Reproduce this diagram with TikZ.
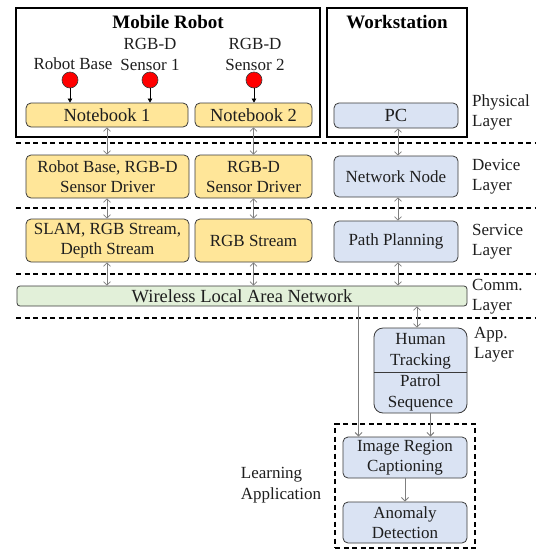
\documentclass[tikz,border=0pt]{standalone}
\usepackage{fontspec}
\setmainfont{Liberation Serif}
\usetikzlibrary{arrows.meta,calc}
\definecolor{ylw}{HTML}{FFE699}
\definecolor{blu}{HTML}{DAE3F3}
\definecolor{grn}{HTML}{E2F0D9}
\definecolor{brd}{HTML}{3A3A3A}
\definecolor{arr}{HTML}{7F7F7F}
\definecolor{txt}{HTML}{1E1E1E}
\tikzset{
  base/.style={draw=brd, line width=0.8pt, rounded corners=5pt, inner sep=0pt, align=center, text=txt, font=\fontsize{17}{20}\selectfont},
  ybox/.style={base, fill=ylw},
  bbox/.style={base, fill=blu},
  gbox/.style={base, fill=grn},
  big/.style={font=\fontsize{18.5}{22}\selectfont},
  frame/.style={draw=black, line width=1.3pt, inner sep=0pt},
  sensor/.style={circle, draw=brd, fill=red, line width=0.6pt, minimum size=16pt, inner sep=0pt},
  lbl/.style={align=center, text=txt, font=\fontsize{17}{21}\selectfont, inner sep=0pt},
  llbl/.style={align=left, anchor=west, text=txt, font=\fontsize{17}{20}\selectfont, inner sep=0pt},
  ttl/.style={text=black, font=\fontsize{19}{22}\selectfont\bfseries, inner sep=0pt},
  sep/.style={draw=black, line width=1.2pt, dash pattern=on 5pt off 3.5pt},
  dbl/.style={draw=arr, line width=0.7pt, {Straight Barb[length=3.5pt,width=7pt]}-{Straight Barb[length=3.5pt,width=7pt]}},
  garrow/.style={draw=arr, line width=0.9pt, -{Straight Barb[length=3.5pt,width=7pt]}},
  karrow/.style={draw=black, line width=0.7pt, -{Triangle[length=4pt,width=4.5pt]}},
}
\begin{document}
\begin{tikzpicture}[x=1pt,y=-1pt]
\useasboundingbox (0,0) rectangle (536,550);
% outer frames
\node[frame, minimum width=304pt, minimum height=129pt] (mr) at (168,72.5) {};
\node[frame, minimum width=140pt, minimum height=129pt] (ws) at (397,72.5) {};
\node[ttl] (mrt) at (168,22) {Mobile Robot};
\node[ttl] (wst) at (397,22) {Workstation};
% sensors
\node[lbl] (rbl) at (73,64) {Robot Base};
\node[lbl] (s1l) at (150,54) {RGB-D\\Sensor 1};
\node[lbl] (s2l) at (255,54) {RGB-D\\Sensor 2};
\node[sensor] (s0) at (70,80) {};
\node[sensor] (s1) at (150,80) {};
\node[sensor] (s2) at (254,80) {};
% physical layer
\node[ybox, big, minimum width=162pt, minimum height=24pt] (nb1) at (107,115) {Notebook 1};
\node[ybox, big, minimum width=117pt, minimum height=24pt] (nb2) at (253.5,115) {Notebook 2};
\node[bbox, big, minimum width=124pt, minimum height=25pt] (pc) at (396,115.5) {PC};
% device layer
\node[ybox, minimum width=163pt, minimum height=43pt] (d1) at (107.5,176.5) {Robot Base, RGB-D\\Sensor Driver};
\node[ybox, minimum width=117pt, minimum height=43pt] (d2) at (253.5,176.5) {RGB-D\\Sensor Driver};
\node[bbox, minimum width=124pt, minimum height=41pt] (nn) at (396,176.5) {Network Node};
% service layer
\node[ybox, minimum width=163pt, minimum height=43pt] (v1) at (107.5,240.5) {SLAM, RGB Stream,\\Depth Stream};
\node[ybox, minimum width=117pt, minimum height=43pt] (v2) at (253.5,240.5) {RGB Stream};
\node[bbox, minimum width=124pt, minimum height=41pt] (pp) at (396,241.5) {Path Planning};
% comm layer
\node[gbox, big, rounded corners=3pt, minimum width=450pt, minimum height=20pt] (wl) at (242,296) {Wireless Local Area Network};
% app layer
\node[bbox, rounded corners=9pt, minimum width=93pt, minimum height=85pt] (ht) at (420.5,370.5) {};
\draw[draw=brd, line width=0.8pt] (ht.west |- 0,372) -- (ht.east |- 0,372);
\node[lbl] (htt) at (420.5,351) {Human\\Tracking};
\node[lbl] (pst) at (420.5,392.5) {Patrol\\Sequence};
% learning application
\node[draw=black, line width=1.2pt, dash pattern=on 5pt off 3.5pt, minimum width=140pt, minimum height=124pt, inner sep=0pt] (la) at (405,486) {};
\node[bbox, minimum width=124pt, minimum height=41pt] (irc) at (405,457.5) {Image Region\\Captioning};
\node[bbox, minimum width=124pt, minimum height=41pt] (ad) at (405,522.5) {Anomaly\\Detection};
\node[lbl, align=left] (lat) at (281,485) {Learning\\Application};
% layer labels
\node[llbl] (lphy) at (472,112) {Physical\\Layer};
\node[llbl] (ldev) at (472,177) {Device\\Layer};
\node[llbl] (lsrv) at (472,242) {Service\\Layer};
\node[llbl] (lcom) at (472,296.5) {Comm.\\Layer};
\node[llbl] (lapp) at (474,345) {App.\\Layer};
% separators
\draw[sep] (16,143) -- (536,143);
\draw[sep] (16,208) -- (536,208);
\draw[sep] (16,274) -- (536,274);
\draw[sep] (16,318) -- (536,318);
% sensor arrows
\draw[karrow] (s0.south) -- (s0.south |- nb1.north);
\draw[karrow] (s1.south) -- (s1.south |- nb1.north);
\draw[karrow] (s2.south) -- (s2.south |- nb2.north);
% layer arrows
\draw[dbl] (nb1.south) -- (nb1.south |- d1.north);
\draw[dbl] (d1.south -| nb1.south) -- (nb1.south |- v1.north);
\draw[dbl] (v1.south -| nb1.south) -- (nb1.south |- wl.north);
\draw[dbl] (nb2.south) -- (nb2.south |- d2.north);
\draw[dbl] (d2.south) -- (d2.south |- v2.north);
\draw[dbl] (v2.south) -- (v2.south |- wl.north);
\draw[dbl] ([xshift=2pt]pc.south) -- ([xshift=2pt]pc.south |- nn.north);
\draw[dbl] ([xshift=2pt]nn.south) -- ([xshift=2pt]nn.south |- pp.north);
\draw[dbl] ([xshift=2pt]pp.south) -- ([xshift=2pt]pp.south |- wl.north);
\coordinate (c0) at ([xshift=-3.5pt]ht.north);
\draw[dbl] (c0 |- wl.south) -- (c0);
\coordinate (c1) at ([xshift=16pt]irc.north west);
\draw[garrow] (c1 |- wl.south) -- (c1);
\coordinate (c2) at ([xshift=-37pt]irc.north east);
\draw[garrow] (c2 |- ht.south) -- (c2);
\draw[garrow] (irc.south) -- (ad.north);
\end{tikzpicture}
\end{document}
